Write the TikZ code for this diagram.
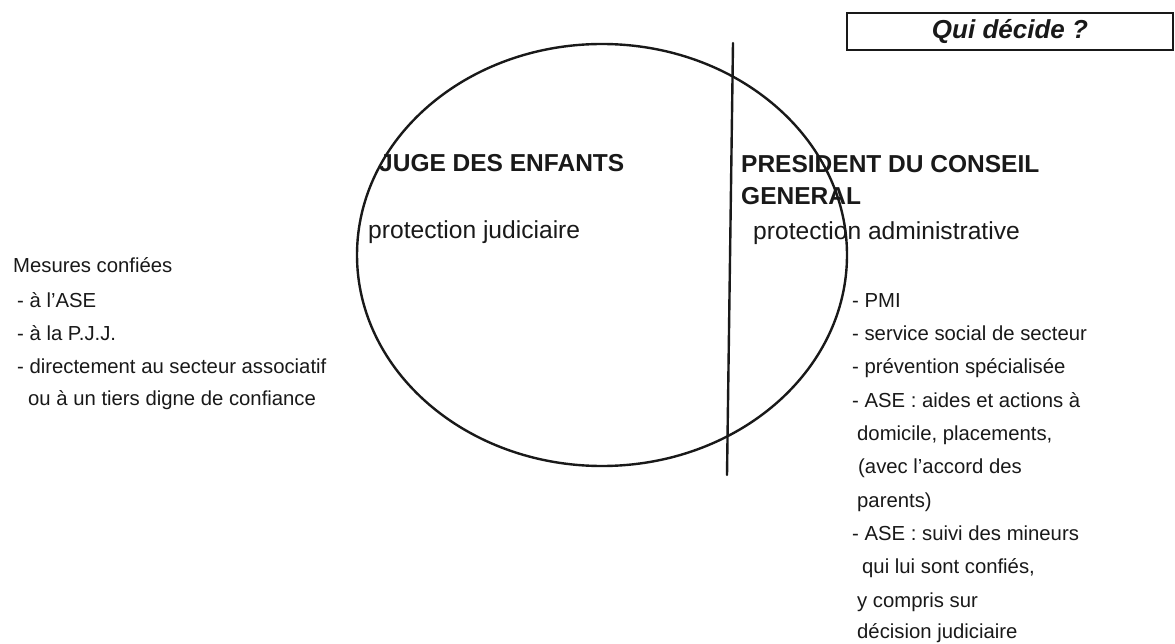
\documentclass[tikz,border=0pt]{standalone}
\usepackage{fontspec}
\setmainfont{Liberation Sans}
\usetikzlibrary{shapes.geometric}
\definecolor{ink}{gray}{0.1}
\tikzset{
  txt/.style={anchor=base west, inner sep=0pt, text=ink},
  small/.style={txt, font=\fontsize{20.3pt}{24pt}\selectfont},
  mid/.style={txt, font=\fontsize{24.6pt}{28pt}\selectfont},
  head/.style={txt, font=\fontsize{24.5pt}{28pt}\selectfont\bfseries},
  rule/.style={draw=ink, line width=2.4pt, line cap=round},
}
\begin{document}
\begin{tikzpicture}[x=1pt,y=-1pt]
\path[use as bounding box, fill=white] (0,0) rectangle (1175,644);
% title box
\node[draw=ink, line width=1.8pt, minimum width=326pt, minimum height=37pt, inner sep=0pt,
      font=\fontsize{26pt}{28pt}\selectfont\bfseries\itshape, text=ink] (title) at (1010,31.5) {Qui décide ?};
% ellipse and dividing line
\node[ellipse, draw=ink, line width=2.4pt, minimum width=490pt, minimum height=422pt, inner sep=0pt] (oval) at (602,255) {};
\coordinate (lt) at (733,43);
\coordinate (lb) at (727,475);
\draw[rule] (lt) -- (lb);
% headings
\node[head] (juge) at (379,172) {JUGE DES ENFANTS};
\node[mid] (pj) at (368,239) {protection judiciaire};
\node[head] (pres1) at (741,173) {PRESIDENT DU CONSEIL};
\node[head] (pres2) at (741,205) {GENERAL};
\node[mid] (pa) at (753,240) {protection administrative};
% left column
\node[small] (l1) at (13,273) {Mesures confiées};
\node[small] (l2) at (17,307) {- à l'ASE};
\node[small] (l3) at (17,340) {- à la P.J.J.};
\node[small] (l4) at (17,373) {- directement au secteur associatif};
\node[small] (l5) at (28,405) {ou à un tiers digne de confiance};
% right column
\node[small] (r1) at (852,307) {- PMI};
\node[small] (r2) at (852,340) {- service social de secteur};
\node[small] (r3) at (852,373) {- prévention spécialisée};
\node[small] (r4) at (852,407) {- ASE : aides et actions à};
\node[small] (r5) at (857,440) {domicile, placements,};
\node[small] (r6) at (858,473) {(avec l'accord des};
\node[small] (r7) at (857,507) {parents)};
\node[small] (r8) at (852,540) {- ASE : suivi des mineurs};
\node[small] (r9) at (862,573) {qui lui sont confiés,};
\node[small] (r10) at (857,607) {y compris sur};
\node[small] (r11) at (857,638) {décision judiciaire};
\end{tikzpicture}
\end{document}
